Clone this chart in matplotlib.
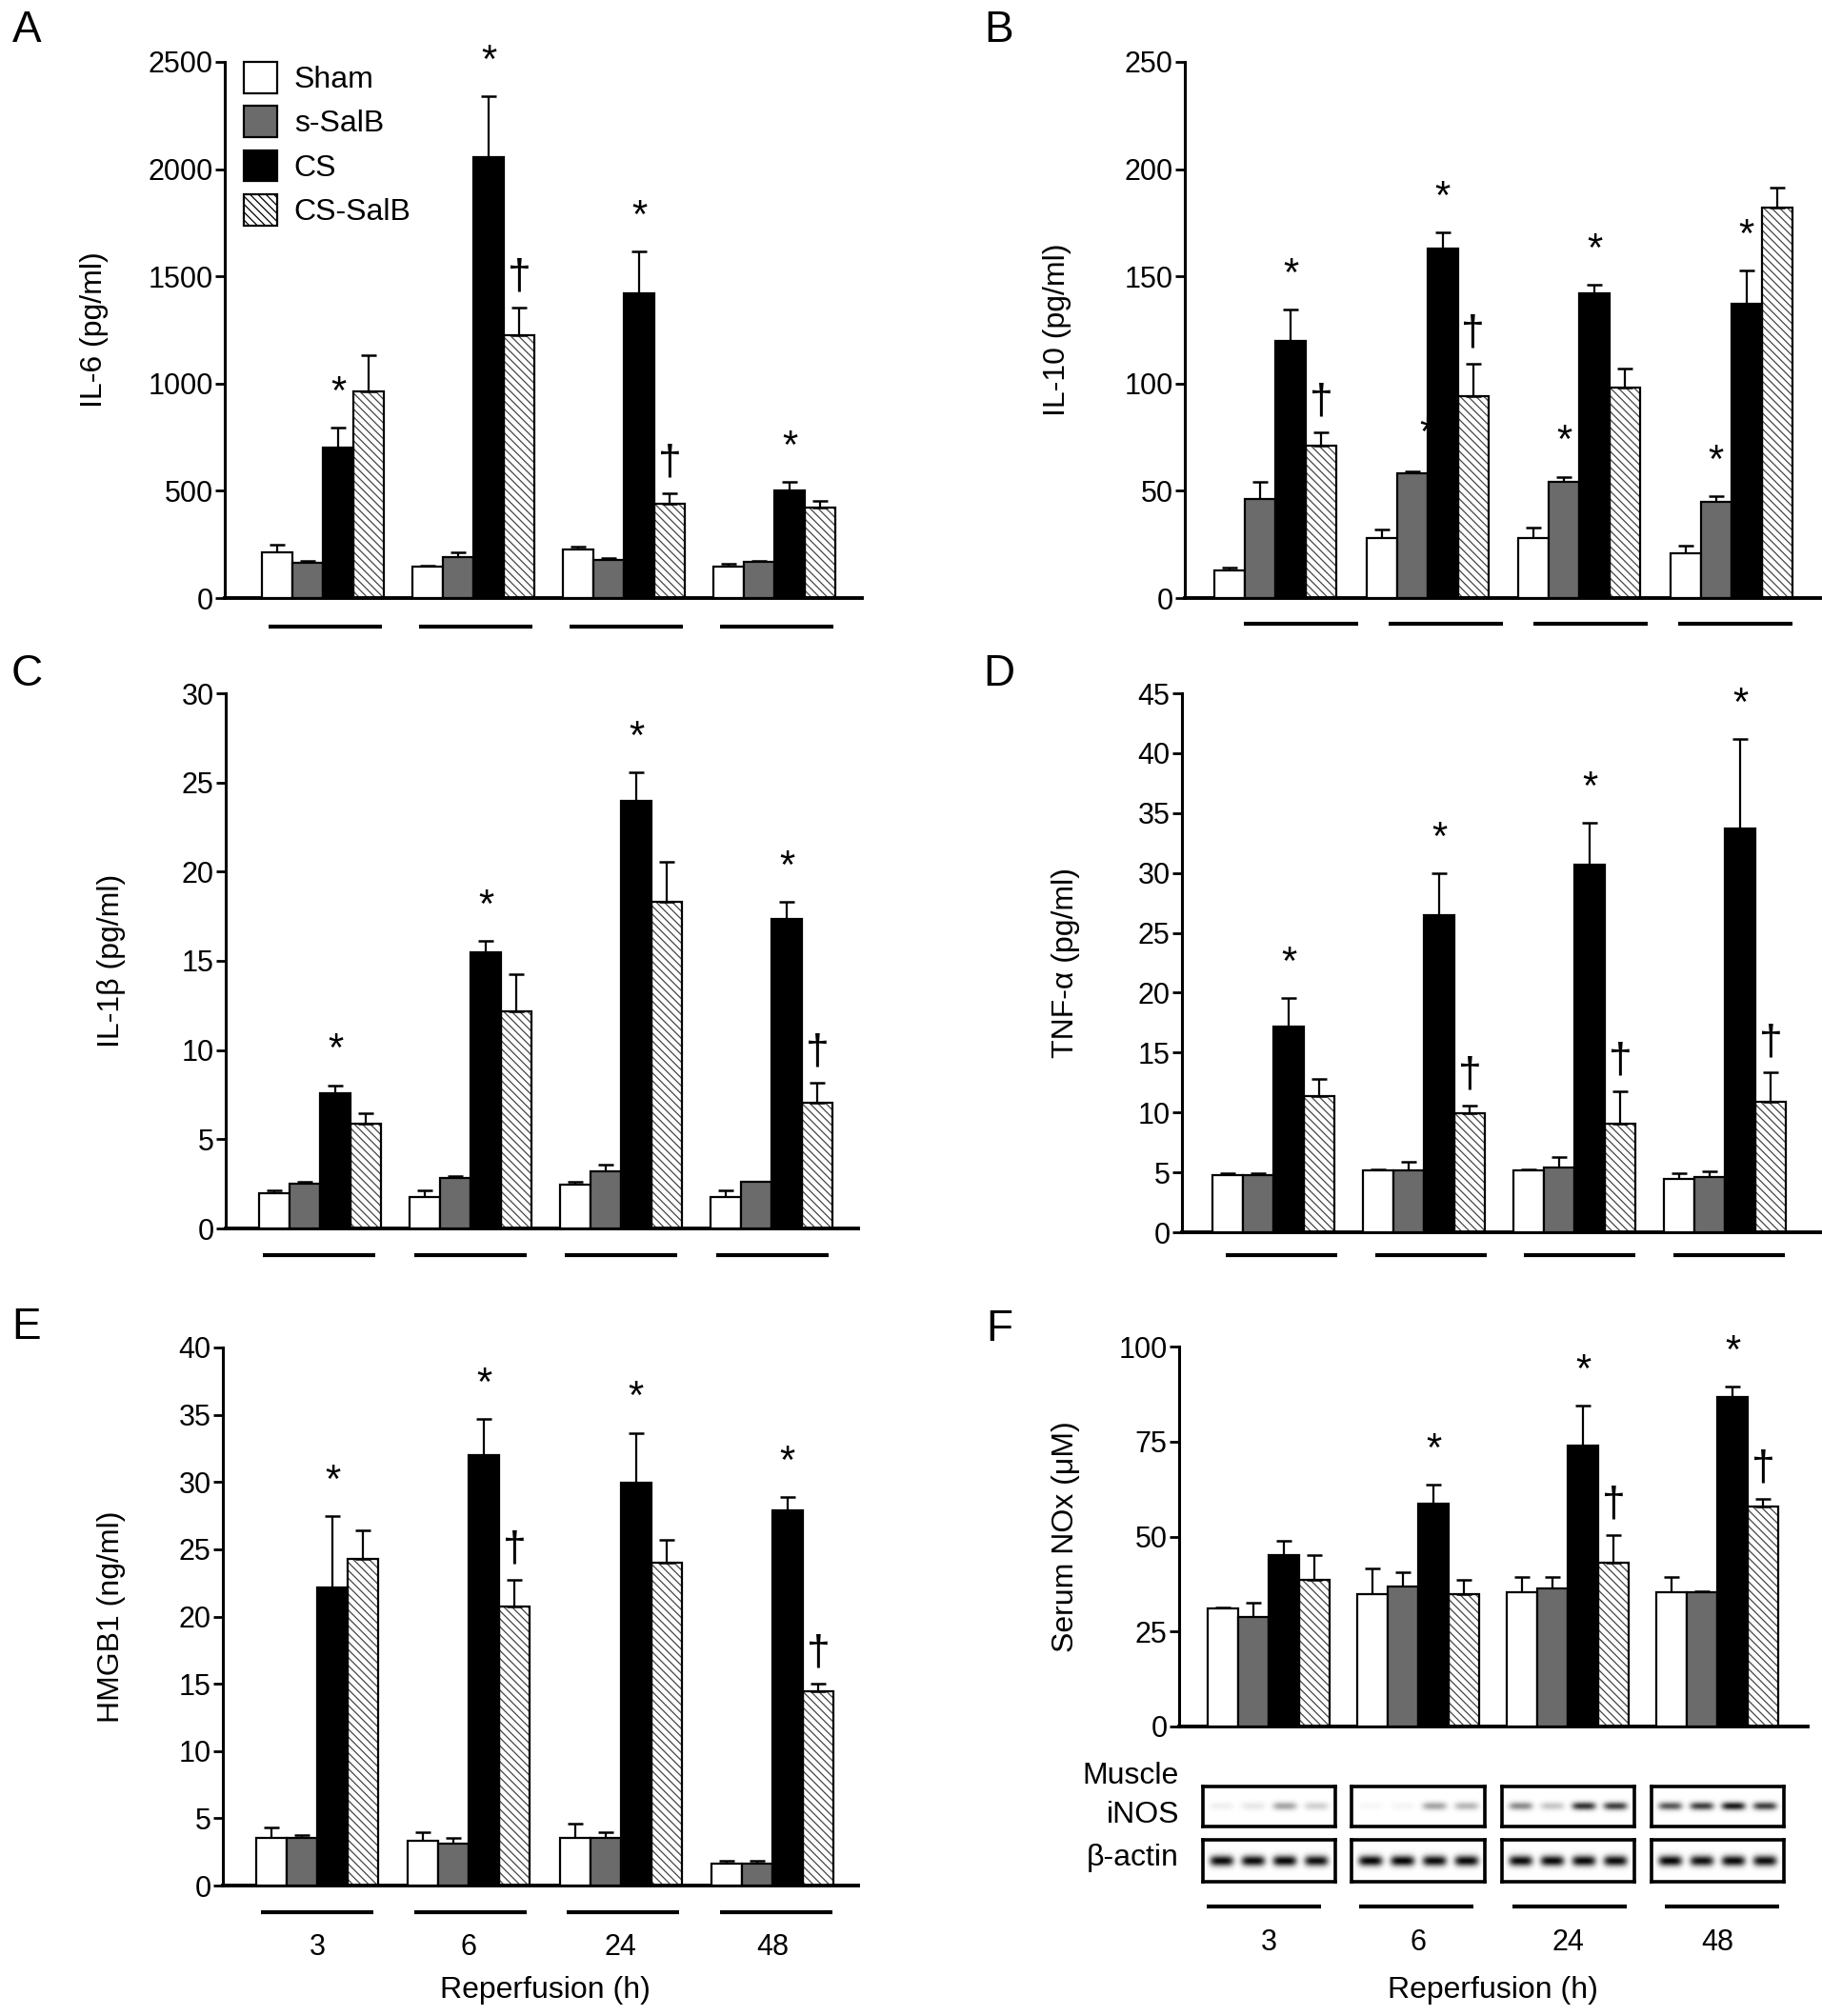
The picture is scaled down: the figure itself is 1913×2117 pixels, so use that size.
import numpy as np
import matplotlib
matplotlib.use('Agg')
import matplotlib.pyplot as plt
from matplotlib.patches import Patch

plt.rcParams['font.family'] = ['Liberation Sans', 'DejaVu Sans']
plt.rcParams['hatch.linewidth'] = 0.9

# data: rows = Sham, s-SalB, CS, CS-SalB ; columns = 3, 6, 24, 48 h
hours = ['3', '6', '24', '48']
series = ['Sham', 's-SalB', 'CS', 'CS-SalB']

il6_mean = [[213, 145, 225, 145], [163, 189, 179, 169], [701, 2056, 1422, 502], [962, 1225, 438, 422]]
il6_err = [[36, 4, 14, 14], [10, 26, 6, 4], [92, 285, 196, 40], [169, 130, 50, 30]]

il10_mean = [[13, 28, 28, 21], [46, 58, 54, 45], [120, 163, 142, 137], [71, 94, 98, 182]]
il10_err = [[1, 4, 5, 3.6], [8, 1, 2.6, 2.6], [14.6, 7.4, 4, 15.8], [6.4, 15.4, 9, 9.3]]

il1b_mean = [[1.95, 1.77, 2.48, 1.77], [2.52, 2.82, 3.21, 2.59], [7.57, 15.47, 23.98, 17.37], [5.85, 12.16, 18.3, 7.07]]
il1b_err = [[0.16, 0.37, 0.16, 0.37], [0.12, 0.12, 0.39, 0.05], [0.46, 0.64, 1.61, 0.92], [0.62, 2.07, 2.23, 1.12]]

tnf_mean = [[4.78, 5.19, 5.19, 4.44], [4.78, 5.19, 5.4, 4.61], [17.18, 26.44, 30.65, 33.75], [11.34, 9.91, 9.05, 10.86]]
tnf_err = [[0.17, 0.05, 0.05, 0.45], [0.17, 0.72, 0.92, 0.51], [2.4, 3.52, 3.51, 7.42], [1.47, 0.68, 2.74, 2.46]]

hmgb1_mean = [[3.55, 3.31, 3.55, 1.64], [3.55, 3.1, 3.55, 1.64], [22.18, 32.03, 29.94, 27.92], [24.26, 20.71, 24.02, 14.41]]
hmgb1_err = [[0.8, 0.66, 1.05, 0.17], [0.17, 0.45, 0.42, 0.17], [5.29, 2.68, 3.72, 0.97], [2.16, 2.05, 1.71, 0.63]]

nox_mean = [[31.05, 34.81, 35.4, 35.4], [28.87, 36.82, 36.23, 35.4], [45.19, 58.58, 74.06, 86.69], [38.49, 34.81, 43.1, 57.82]]
nox_err = [[0.2, 6.86, 4.01, 4.01], [3.77, 3.85, 3.18, 0.3], [3.76, 5.1, 10.29, 2.85], [6.5, 3.77, 7.19, 2.1]]

# significance marks: (group, series, symbol); 'h' = partly hidden behind next bar
il6_marks = [(0, 2, '*'), (1, 2, '*'), (1, 3, '†'), (2, 2, '*'), (2, 3, '†'), (3, 2, '*')]
il10_marks = [(0, 2, '*'), (0, 3, '†'), (1, 1, 'h'), (1, 2, '*'), (1, 3, '†'), (2, 1, '*'), (2, 2, '*'), (3, 1, '*'), (3, 2, '*')]
il1b_marks = [(0, 2, '*'), (1, 2, '*'), (2, 2, '*'), (3, 2, '*'), (3, 3, '†')]
tnf_marks = [(0, 2, '*'), (1, 2, '*'), (1, 3, '†'), (2, 2, '*'), (2, 3, '†'), (3, 2, '*'), (3, 3, '†')]
hmgb1_marks = [(0, 2, '*'), (1, 2, '*'), (1, 3, '†'), (2, 2, '*'), (3, 2, '*'), (3, 3, '†')]
nox_marks = [(1, 2, '*'), (2, 2, '*'), (2, 3, '†'), (3, 2, '*'), (3, 3, '†')]

# western blot band intensities (lanes: Sham, s-SalB, CS, CS-SalB)
inos_bands = [[0.06, 0.09, 0.35, 0.18], [0.03, 0.04, 0.35, 0.28], [0.45, 0.22, 0.8, 0.75], [0.65, 0.75, 0.9, 0.75]]
actin_bands = [[0.95, 0.95, 0.97, 0.93], [0.97, 0.98, 0.95, 0.96], [0.95, 0.96, 0.96, 0.95], [0.97, 0.93, 0.96, 0.94]]

W, H = 1913, 2117
fig = plt.figure(figsize=(W / 100, H / 100), dpi=100)

BW = 32  # bar width in px
# layout in pixels: axes box, first bar, group pitch, underline y / start / pitch / length
LAYOUT = {
    'A': dict(l=236, r=905, t=65, b=628, first=275, pitch=158, ly=658, ls=282, lp=158, ll=119, lab=-0.182),
    'B': dict(l=1244, r=1911, t=65, b=628, first=1275, pitch=159.5, ly=655, ls=1306, lp=152, ll=120, lab=-0.178),
    'C': dict(l=237, r=901, t=728, b=1290, first=272, pitch=158, ly=1318, ls=276, lp=158.7, ll=118, lab=-0.158),
    'D': dict(l=1241, r=1911, t=728, b=1294, first=1273, pitch=158, ly=1318, ls=1287, lp=156.7, ll=117, lab=-0.16),
    'E': dict(l=234, r=901, t=1415, b=1980, first=269, pitch=159.3, ly=2008, ls=274, lp=160.7, ll=118, lab=-0.153),
    'F': dict(l=1238, r=1898, t=1414, b=1813, first=1268, pitch=157, ly=2002, ls=1267, lp=160.3, ll=120, lab=-0.158),
}

faces = ['white', '#6b6b6b', 'black', 'white']
HATCH = '\\\\\\\\'


def panel(key, mean, err, marks, ymax, yticks, ylabel):
    L = LAYOUT[key]
    ax = fig.add_axes([L['l'] / W, 1 - L['b'] / H, (L['r'] - L['l']) / W, (L['b'] - L['t']) / H])
    ax.set_xlim(0, (L['r'] - L['l']) / BW)
    ax.set_ylim(0, ymax)
    x0 = (L['first'] - L['l']) / BW
    p = L['pitch'] / BW
    mean = np.array(mean)
    err = np.array(err)
    for s in range(4):
        xs = x0 + np.arange(4) * p + s
        if s == 3:
            ax.bar(xs, mean[s], width=1, align='edge', color='white', edgecolor='#454545',
                   hatch=HATCH, linewidth=0, zorder=2)
            ax.bar(xs, mean[s], width=1, align='edge', fill=False, edgecolor='black', linewidth=1.6, zorder=3)
        else:
            ax.bar(xs, mean[s], width=1, align='edge', color=faces[s], edgecolor='black', linewidth=1.6, zorder=3)
        ax.errorbar(xs + 0.5, mean[s], yerr=[np.zeros(4), err[s]], fmt='none', ecolor='black',
                    elinewidth=1.6, capsize=5.5, capthick=1.8, zorder=2.5)
    for g, s, sym in marks:
        xc = x0 + g * p + s + 0.5
        top = mean[s][g] + err[s][g]
        if sym == '*':
            ax.annotate('*', (xc, top), xytext=(0, 26), textcoords='offset points', ha='center',
                        va='center', fontsize=30, annotation_clip=False, zorder=5)
        elif sym == 'h':
            ax.annotate('*', (xc + 0.5, top), xytext=(0, 28), textcoords='offset points', ha='center',
                        va='center', fontsize=30, annotation_clip=False, zorder=1)
        else:
            ax.annotate('†', (xc, top), xytext=(0, 23), textcoords='offset points', ha='center',
                        va='center', fontsize=32, annotation_clip=False, zorder=5)
    ax.spines['top'].set_visible(False)
    ax.spines['right'].set_visible(False)
    ax.spines['left'].set_linewidth(2.2)
    ax.spines['bottom'].set_linewidth(2.8)
    ax.set_xticks([])
    ax.set_yticks(yticks)
    ax.tick_params(axis='y', labelsize=22, width=2, length=7, pad=2)
    ax.set_ylabel(ylabel, fontsize=23)
    ax.yaxis.set_label_coords(L['lab'], 0.5)
    # group underlines
    fy = -(L['ly'] - L['b']) / (L['b'] - L['t'])
    for g in range(4):
        a = (L['ls'] + g * L['lp'] - L['l']) / BW
        ax.plot([a, a + L['ll'] / BW], [fy, fy], color='black', lw=3, transform=ax.get_xaxis_transform(),
                clip_on=False, solid_capstyle='butt')
    return ax


axA = panel('A', il6_mean, il6_err, il6_marks, 2500, [0, 500, 1000, 1500, 2000, 2500], 'IL-6 (pg/ml)')
panel('B', il10_mean, il10_err, il10_marks, 250, [0, 50, 100, 150, 200, 250], 'IL-10 (pg/ml)')
panel('C', il1b_mean, il1b_err, il1b_marks, 30, [0, 5, 10, 15, 20, 25, 30], 'IL-1β (pg/ml)')
panel('D', tnf_mean, tnf_err, tnf_marks, 45, list(range(0, 50, 5)), 'TNF-α (pg/ml)')
panel('E', hmgb1_mean, hmgb1_err, hmgb1_marks, 40, list(range(0, 45, 5)), 'HMGB1 (ng/ml)')
panel('F', nox_mean, nox_err, nox_marks, 100, [0, 25, 50, 75, 100], 'Serum NOx (μM)')

# legend
handles = [Patch(facecolor='white', edgecolor='black', linewidth=1.6),
           Patch(facecolor='#6b6b6b', edgecolor='black', linewidth=1.6),
           Patch(facecolor='black', edgecolor='black', linewidth=1.6),
           Patch(facecolor='white', edgecolor='black', hatch=HATCH, linewidth=1.6)]
axA.legend(handles, series, loc='upper left', bbox_to_anchor=(0.03, 1.0), frameon=False, fontsize=23,
           handlelength=1.1, handleheight=1.2, labelspacing=0.38, handletextpad=0.55, borderpad=0,
           borderaxespad=0)

# x labels for E and F (hours and axis title)
for key in ['E', 'F']:
    L = LAYOUT[key]
    ty = 2045 if key == 'E' else 2040
    for g in range(4):
        xc = L['first'] + g * L['pitch'] + 2 * BW
        fig.text(xc / W, 1 - ty / H, hours[g], ha='center', va='center', fontsize=22)
    xm = L['first'] + 1.5 * L['pitch'] + 2 * BW
    fig.text(xm / W, 1 - 2090 / H, 'Reperfusion (h)', ha='center', va='center', fontsize=23)

# western blots under F
blot_x = [(1263, 1402), (1419, 1559), (1577, 1716), (1734, 1873)]
blot_rows = [((1876, 1918), inos_bands, 0.10), ((1932, 1976), actin_bands, 0.13)]
for (yt, yb), bands, sig in blot_rows:
    for g, (xl, xr) in enumerate(blot_x):
        bax = fig.add_axes([xl / W, 1 - yb / H, (xr - xl) / W, (yb - yt) / H])
        nx, ny = 140, 44
        xx = np.linspace(0, 1, nx)
        yy = np.linspace(0, 1, ny)
        img = np.zeros((ny, nx))
        for i, v in enumerate(bands[g]):
            cx = 0.14 + i * 0.24
            prof_x = np.exp(-((xx - cx) / 0.09) ** 4)
            prof_y = np.exp(-((yy - 0.5) / sig) ** 2)
            img += v * np.outer(prof_y, prof_x)
        img = np.clip(img, 0, 1)
        bax.imshow(1 - img, cmap='gray', vmin=0, vmax=1, aspect='auto', interpolation='bilinear')
        bax.set_xticks([])
        bax.set_yticks([])
        for sp in bax.spines.values():
            sp.set_linewidth(2.6)

fig.text(1238 / W, 1 - 1865 / H, 'Muscle', ha='right', va='center', fontsize=23)
fig.text(1238 / W, 1 - 1906 / H, 'iNOS', ha='right', va='center', fontsize=23)
fig.text(1238 / W, 1 - 1951 / H, 'β-actin', ha='right', va='center', fontsize=23)

# panel letters
for lab, (px, py) in {'A': (28, 32), 'B': (1049, 32), 'C': (28, 708), 'D': (1049, 708),
                      'E': (28, 1394), 'F': (1049, 1396)}.items():
    fig.text(px / W, 1 - py / H, lab, ha='center', va='center', fontsize=33)

fig.savefig('out.png', dpi=100, facecolor='white')
